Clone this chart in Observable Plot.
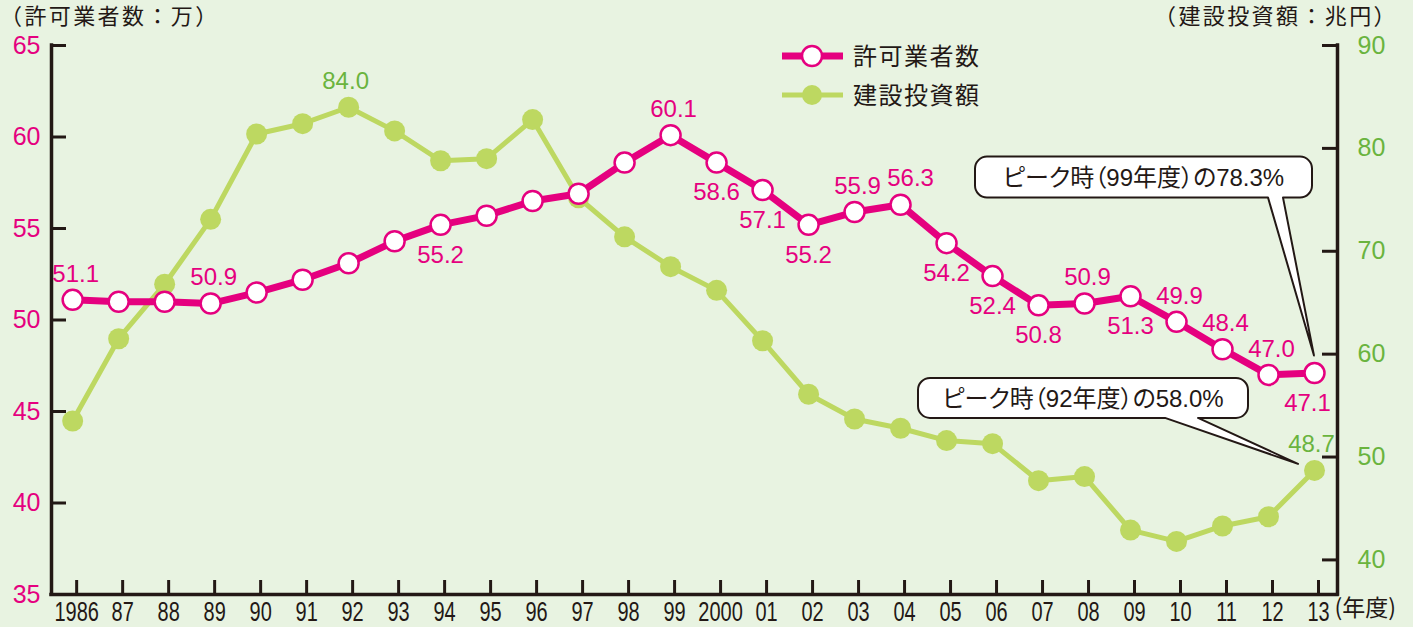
<!DOCTYPE html>
<html>
<head>
<meta charset="utf-8">
<script src="https://cdn.jsdelivr.net/npm/d3@7"></script>
<script src="https://cdn.jsdelivr.net/npm/@observablehq/plot@0.6"></script>
<style>
  html, body { margin: 0; padding: 0; background: #E8F3E1; }
  #chart svg { display: block; }
</style>
</head>
<body>
<div id="chart"></div>
<script>
// ---- data ----
const years = [1986,1987,1988,1989,1990,1991,1992,1993,1994,1995,1996,1997,1998,1999,2000,2001,2002,2003,2004,2005,2006,2007,2008,2009,2010,2011,2012,2013];
const permitHolders = [51.1,51.0,51.0,50.9,51.5,52.2,53.1,54.3,55.2,55.7,56.5,56.9,58.6,60.1,58.6,57.1,55.2,55.9,56.3,54.2,52.4,50.8,50.9,51.3,49.9,48.4,47.0,47.1];
const investment = [53.5,61.5,66.8,73.1,81.4,82.4,84.0,81.7,78.8,79.0,82.8,75.2,71.4,68.5,66.2,61.3,56.1,53.7,52.8,51.6,51.3,47.7,48.1,42.9,41.8,43.3,44.2,48.7];
const xTickLabels = ["1986","87","88","89","90","91","92","93","94","95","96","97","98","99","2000","01","02","03","04","05","06","07","08","09","10","11","12","13"];
const leftTicks = [35,40,45,50,55,60,65];
const rightTicks = [40,50,60,70,80,90];
const seriesNames = ["許可業者数","建設投資額"];
const leftTitle = "（許可業者数：万）";
const rightTitle = "（建設投資額：兆円）";
const xUnit = "(年度)";
const pinkAbove = [1986,1989,1999,2003,2004,2008,2010,2011,2012];
const pinkBelow = [1994,2000,2001,2002,2005,2006,2007,2009,2013];
const greenLabeled = [1992,2013];
const calloutTexts = ["ピーク時（99年度）の78.3%","ピーク時（92年度）の58.0%"];

// ---- styles ----
const BG = "#E8F3E1", PINK = "#E5007F", GREEN = "#BDD861", GREEN_TXT = "#6AB43E", INK = "#231815";
const SANS = "'Liberation Sans', Arial, 'Noto Sans CJK JP', sans-serif";
const CJK = "'Noto Sans CJK JP', sans-serif";
const labelNudge = {2004: 10, 2013: -7}; // horizontal label offsets in px

// right-axis value -> left-axis units
const K = 0.5622;
const toLeft = v => 65 - (90 - v) * K;
const fromLeft = l => 90 - (65 - l) / K;

const rows = years.map((year, i) => ({year, permit: permitHolders[i], invest: investment[i], investL: toLeft(investment[i])}));
const xDomain = [1985.54, 2013.5];

// legend (function mark)
function legend() {
  const g = d3.create("svg:g");
  const items = [
    {name: seriesNames[0], y: 56, stroke: PINK, sw: 7, fill: "white", cs: PINK},
    {name: seriesNames[1], y: 95, stroke: GREEN, sw: 5, fill: GREEN, cs: "none"}
  ];
  for (const it of items) {
    g.append("line").attr("x1", 782).attr("x2", 843).attr("y1", it.y).attr("y2", it.y)
      .attr("stroke", it.stroke).attr("stroke-width", it.sw);
    g.append("circle").attr("cx", 812).attr("cy", it.y).attr("r", 10)
      .attr("fill", it.fill).attr("stroke", it.cs).attr("stroke-width", 2.5);
    g.append("text").attr("x", 853).attr("y", it.y).attr("dy", "0.36em").attr("text-anchor", "start")
      .attr("font-family", CJK).attr("font-size", 24).attr("letter-spacing", 1.5).attr("fill", INK).text(it.name);
  }
  return g.node();
}

// callouts (function mark, anchored to data points via scales)
function callouts(index, scales) {
  const g = d3.create("svg:g");
  const last = rows[rows.length - 1];
  const specs = [
    {text: calloutTexts[0], px: scales.x(last.year), py: scales.y(last.permit), L: -339, R: -2, T: -216, B: -175, b1: -46, b2: -31, tx: 0, ty: -17},
    {text: calloutTexts[1], px: scales.x(last.year), py: scales.y(last.investL), L: -396, R: -66, T: -92, B: -52, b1: -149, b2: -116, tx: -16, ty: -6}
  ];
  const r = 12;
  for (const s of specs) {
    const L = s.px + s.L, R = s.px + s.R, T = s.py + s.T, B = s.py + s.B;
    const b1 = s.px + s.b1, b2 = s.px + s.b2, tx = s.px + s.tx, ty = s.py + s.ty;
    const d = `M${L+r},${T}H${R-r}A${r},${r} 0 0 1 ${R},${T+r}V${B-r}A${r},${r} 0 0 1 ${R-r},${B}H${b2}L${tx},${ty}L${b1},${B}H${L+r}A${r},${r} 0 0 1 ${L},${B-r}V${T+r}A${r},${r} 0 0 1 ${L+r},${T}Z`;
    g.append("path").attr("d", d).attr("fill", "white").attr("stroke", INK).attr("stroke-width", 2).attr("stroke-linejoin", "round");
    g.append("text").attr("x", (L + R) / 2).attr("y", (T + B) / 2).attr("dy", "0.36em")
      .attr("text-anchor", "middle").attr("font-family", SANS).attr("font-size", 24)
      .style("font-feature-settings", "'palt'").attr("fill", INK).text(s.text);
  }
  return g.node();
}

// axis titles (function mark, placed relative to the frame)
function axisTitles(index, scales, values, dims) {
  const g = d3.create("svg:g").attr("font-family", CJK).attr("font-size", 22).attr("fill", INK);
  g.append("text").attr("x", 0).attr("y", dims.marginTop - 29).attr("dy", "0.36em")
    .attr("text-anchor", "start").attr("letter-spacing", 2.4).text(leftTitle);
  g.append("text").attr("x", dims.width - 15).attr("y", dims.marginTop - 29).attr("dy", "0.36em")
    .attr("text-anchor", "end").attr("letter-spacing", 2.4).text(rightTitle);
  return g.node();
}

const labelCommon = {x: "year", fontSize: 24, fontFamily: SANS, lineAnchor: "middle"};
const nudgeGroups = [null, ...Object.keys(labelNudge).map(Number)];
const pinkLabelMarks = [];
for (const [list, dy, baseDx] of [[pinkAbove, -26, 3], [pinkBelow, 30, 0]]) {
  for (const ny of nudgeGroups) {
    const sel = rows.filter(d => list.includes(d.year) && (ny === null ? !(d.year in labelNudge) : d.year === ny));
    if (!sel.length) continue;
    pinkLabelMarks.push(Plot.text(sel, {...labelCommon, y: "permit", text: d => d.permit.toFixed(1),
      dx: ny === null ? baseDx : labelNudge[ny], dy, fill: PINK}));
  }
}

const chart = Plot.plot({
  width: 1413,
  height: 627,
  marginLeft: 51,
  marginRight: 76,
  marginTop: 45,
  marginBottom: 33,
  style: {background: BG, fontFamily: SANS, overflow: "visible"},
  x: {domain: xDomain, label: null},
  y: {domain: [35, 65], label: null},
  marks: [
    // axes
    Plot.axisY(leftTicks, {anchor: "left", tickSize: -15, tickPadding: 26, strokeWidth: 3, stroke: INK, fill: PINK, fontSize: 25, label: null}),
    Plot.axisY(rightTicks.map(toLeft), {anchor: "right", tickSize: -16, tickPadding: 36, strokeWidth: 3, stroke: INK, fill: GREEN_TXT, fontSize: 25, label: null,
      tickFormat: d => String(Math.round(fromLeft(d)))}),
    Plot.axisX(years, {anchor: "bottom", tickSize: -14, tickPadding: 21, dx: 4, strokeWidth: 3, stroke: INK, fill: INK, fontSize: 27, label: null,
      tickFormat: d => xTickLabels[years.indexOf(d)]}),
    Plot.ruleY([35], {stroke: INK, strokeWidth: 3.5, strokeLinecap: "square"}),
    Plot.ruleX([xDomain[0], xDomain[1]], {stroke: INK, strokeWidth: 3.5, strokeLinecap: "square"}),
    // axis titles
    axisTitles,
    Plot.text([xUnit], {x: [years[years.length - 1]], frameAnchor: "bottom", dx: 20, dy: 21, textAnchor: "start", fontSize: 23, fontFamily: CJK, fill: INK}),
    // series: 建設投資額
    Plot.line(rows, {x: "year", y: "investL", stroke: GREEN, strokeWidth: 5}),
    Plot.dot(rows, {x: "year", y: "investL", r: 10.5, fill: GREEN}),
    // series: 許可業者数
    Plot.line(rows, {x: "year", y: "permit", stroke: PINK, strokeWidth: 7}),
    Plot.dot(rows, {x: "year", y: "permit", r: 10, fill: "white", stroke: PINK, strokeWidth: 2.5}),
    // value labels
    ...pinkLabelMarks,
    Plot.text(rows.filter(d => greenLabeled.includes(d.year)), {...labelCommon, y: "investL", text: d => d.invest.toFixed(1), dx: -3, dy: -26, fill: GREEN_TXT}),
    // annotations
    callouts,
    legend
  ]
});
document.getElementById("chart").appendChild(chart);

// condense the year tick labels (narrow typeface in the reference)
d3.select(chart).selectAll("g[aria-label='x-axis tick label'] text").each(function() {
  const w = this.getComputedTextLength();
  this.setAttribute("textLength", (w * 0.74).toFixed(1));
  this.setAttribute("lengthAdjust", "spacingAndGlyphs");
});
</script>
</body>
</html>
